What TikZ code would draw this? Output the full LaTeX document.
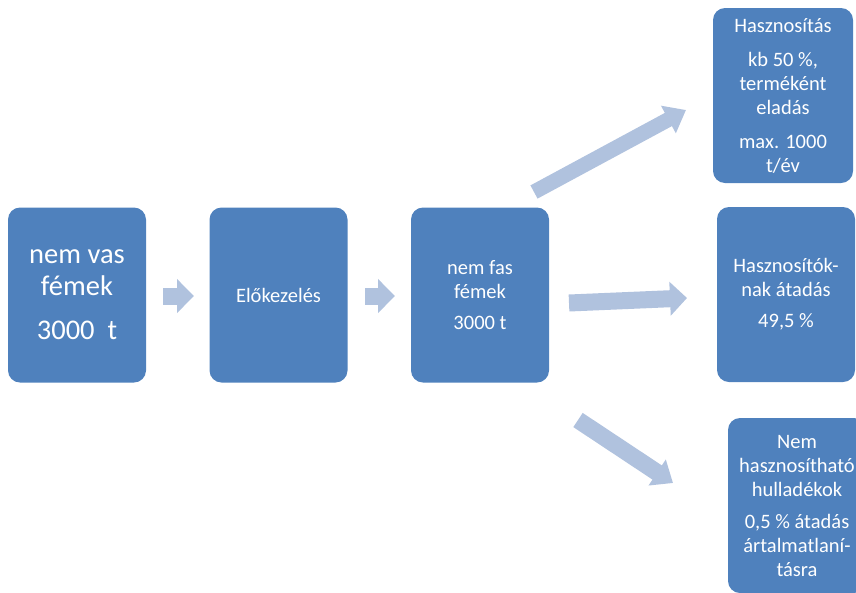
\documentclass[tikz,border=0pt]{standalone}
\usepackage{fontspec}
\setmainfont{Carlito}
\usetikzlibrary{arrows.meta}
\definecolor{wfiebd}{rgb}{0.31,0.506,0.741}
\definecolor{bqcrde}{rgb}{0.69,0.761,0.871}

\begin{document}
\begin{tikzpicture}[line cap=round,line join=round,x=1pt,y=1pt,
	box/.style={fill=wfiebd,text=white,rounded corners=12pt,minimum width=138pt,minimum height=175pt,inner sep=0pt,align=center,font=\fontsize{20.5}{24}\selectfont},
	flow/.style={draw=bqcrde,line width=17pt,line cap=butt,line join=miter,-{Triangle[length=17pt,width=33pt]}}]
	\useasboundingbox (0,-592) rectangle (856,0);
	\clip(0,-592) rectangle (856,0);
	\node[box,font=\fontsize{28.5}{32}\selectfont] (nemvas) at (77,-295) {nem vas\\fémek\\[12pt]3000~~t};
	\node[box] (elokez) at (278.5,-295) {Előkezelés};
	\node[box] (nemfas) at (480,-295) {nem fas\\fémek\\[7pt]3000 t};
	\node[box,minimum width=140pt] (haszn) at (783,-95.5) {Hasznosítás\\[10pt]kb 50 \%,\\terméként\\eladás\\[10pt]max. 1000\\t/év};
	\node[box] (atadas) at (786,-294.5) {Hasznosítók-\\nak átadás\\[7pt]49,5 \%};
	\node[box] (nemhaszn) at (797,-505.5) {Nem\\hasznosítható\\hulladékok\\[8pt]0,5 \% átadás\\ártalmatlaní-\\tásra};
	\coordinate (p1) at (163,-296);
	\coordinate (q1) at (194,-296);
	\coordinate (p2) at (365,-296);
	\coordinate (q2) at (395,-296);
	\coordinate (p3) at (534,-192);
	\coordinate (q3) at (686,-110);
	\coordinate (p4) at (569,-303);
	\coordinate (q4) at (687,-298);
	\coordinate (p5) at (578,-420);
	\coordinate (q5) at (673,-483);
	\draw[flow] (p1)-- (q1);
	\draw[flow] (p2)-- (q2);
	\draw[flow,line width=15pt,-{Triangle[length=20pt,width=30pt]}] (p3)-- (q3);
	\draw[flow] (p4)-- (q4);
	\draw[flow,-{Triangle[length=19pt,width=30pt]}] (p5)-- (q5);
\end{tikzpicture}
\end{document}
